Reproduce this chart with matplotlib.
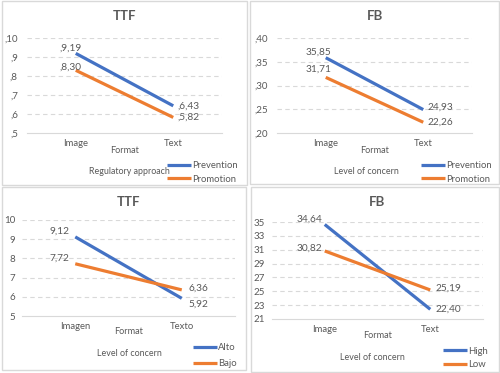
import matplotlib.pyplot as plt
from matplotlib.patches import Rectangle

plt.rcParams["font.family"] = ["Lato", "DejaVu Sans"]

W, H = 500, 373
BLUE = "#4472C4"
ORANGE = "#ED7D31"
TXT = "#595959"
GRID = "#D9D9D9"

# datos
fmt_en = ["Image", "Text"]
fmt_es = ["Imagen", "Texto"]

ttf_prev = [9.19, 6.43]
ttf_prom = [8.30, 5.82]
ttf_prev_lbl = [",9,19", ",6,43"]
ttf_prom_lbl = [",8,30", ",5,82"]
ttf_ticks = [5, 6, 7, 8, 9, 10]
ttf_ticklbl = [",5", ",6", ",7", ",8", ",9", ",10"]

fb_prev = [35.85, 24.93]
fb_prom = [31.71, 22.26]
fb_prev_lbl = ["35,85", "24,93"]
fb_prom_lbl = ["31,71", "22,26"]
fb_ticks = [20, 25, 30, 35, 40]
fb_ticklbl = [",20", ",25", ",30", ",35", ",40"]

ttf_alto = [9.12, 5.92]
ttf_bajo = [7.72, 6.36]
ttf_alto_lbl = ["9,12", "5,92"]
ttf_bajo_lbl = ["7,72", "6,36"]
ttf2_ticks = [5, 6, 7, 8, 9, 10]

fb_high = [34.64, 22.40]
fb_low = [30.82, 25.19]
fb_high_lbl = ["34,64", "22,40"]
fb_low_lbl = ["30,82", "25,19"]
fb2_ticks = [21, 23, 25, 27, 29, 31, 33, 35]


def frac(x0, y0, x1, y1):
    return [x0 / W, 1 - y1 / H, (x1 - x0) / W, (y1 - y0) / H]


fig = plt.figure(figsize=(5, 3.73), dpi=100)
fig.patch.set_facecolor("white")

# marcos de cada grafico
for x0, y0, x1, y1 in [(2, 0.5, 247, 185), (250, 0.5, 499, 184),
                       (2, 187, 246, 370), (251, 187, 499, 372)]:
    fig.patches.append(Rectangle((x0 / W, 1 - y1 / H), (x1 - x0) / W, (y1 - y0) / H,
                                 transform=fig.transFigure, fill=False,
                                 edgecolor=GRID, linewidth=1.0))


def panel(rect, title, cats, s1, s2, l1, l2, names, ticks, ticklbl,
          ylim, legtitle, leg_xy, title_y, fmt_y, legtitle_xy, offs, ypad,
          lspace):
    ax = fig.add_axes(frac(*rect))
    x = [0, 1]
    h1, = ax.plot(x, s1, color=BLUE, lw=2.3, solid_capstyle="butt")
    h2, = ax.plot(x, s2, color=ORANGE, lw=2.3, solid_capstyle="butt")
    ax.set_xlim(-0.5, 1.5)
    ax.set_ylim(*ylim)
    ax.set_yticks(ticks)
    ax.set_yticklabels(ticklbl if ticklbl else [str(t) for t in ticks])
    ax.set_xticks(x)
    ax.set_xticklabels(cats)
    ax.tick_params(length=0, labelcolor=TXT)
    ax.tick_params(axis="y", pad=ypad, labelsize=7)
    ax.tick_params(axis="x", pad=4, labelsize=6.8)
    for t in ticks[1:]:
        ax.axhline(t, color=GRID, lw=0.8, ls=(0, (4, 3)), zorder=0)
    for sp in ["top", "right", "left"]:
        ax.spines[sp].set_visible(False)
    ax.spines["bottom"].set_color(GRID)
    ax.set_facecolor("none")
    # etiquetas de datos
    for i in range(2):
        ha = "right" if i == 0 else "left"
        dx = offs[i][0]
        ax.annotate(l1[i], (x[i], s1[i]), xytext=(dx, offs[i][1]),
                    textcoords="offset points", ha=ha, va="center",
                    fontsize=7.3, color=TXT)
        ax.annotate(l2[i], (x[i], s2[i]), xytext=(dx, offs[i][2]),
                    textcoords="offset points", ha=ha, va="center",
                    fontsize=7.3, color=TXT)
    cx = (rect[0] + rect[2]) / 2
    fig.text(cx / W, 1 - title_y / H, title, ha="center", va="center",
             fontsize=9.5, fontweight="bold", color=TXT)
    fig.text(cx / W, 1 - fmt_y / H, "Format", ha="center", va="center",
             fontsize=6.6, color=TXT)
    fig.text(legtitle_xy[0] / W, 1 - legtitle_xy[1] / H, legtitle,
             ha="center", va="center", fontsize=6.4, color=TXT)
    fig.legend([h1, h2], names, loc="center left",
               bbox_to_anchor=(leg_xy[0] / W, 1 - leg_xy[1] / H),
               frameon=False, fontsize=6.8, labelcolor=TXT,
               handlelength=2.5, handletextpad=0.15, labelspacing=lspace,
               borderpad=0, borderaxespad=0)
    return ax


panel((27, 38, 222, 133), "TTF", fmt_en, ttf_prev, ttf_prom,
      ttf_prev_lbl, ttf_prom_lbl, ["Prevention", "Promotion"],
      ttf_ticks, ttf_ticklbl, (5, 10), "Regulatory approach",
      (167, 172.5), 16, 150, (129, 172),
      [(4, 4, 2), (3, 0, 0)], 6.5, 0.45)

panel((277, 38, 472, 133), "FB", fmt_en, fb_prev, fb_prom,
      fb_prev_lbl, fb_prom_lbl, ["Prevention", "Promotion"],
      fb_ticks, fb_ticklbl, (20, 40), "Level of concern",
      (421, 172.5), 16, 150, (366, 172),
      [(4, 4, 6), (3, 2, 0)], 6.5, 0.45)

panel((22, 220, 235, 316), "TTF", fmt_es, ttf_alto, ttf_bajo,
      ttf_alto_lbl, ttf_bajo_lbl, ["Alto", "Bajo"],
      ttf2_ticks, None, (5, 10), "Level of concern",
      (193, 355.5), 202, 332, (129, 353),
      [(-4, 4, 4), (5, -4, 1)], 5, 0.7)

panel((272, 222, 483, 319), "FB", fmt_en, fb_high, fb_low,
      fb_high_lbl, fb_low_lbl, ["High", "Low"],
      fb2_ticks, None, (21, 35), "Level of concern",
      (443, 358), 202, 336, (372, 357),
      [(-2, 4, 2), (4, 0, 1)], 5, 0.5)

fig.savefig("out.png", dpi=100)
